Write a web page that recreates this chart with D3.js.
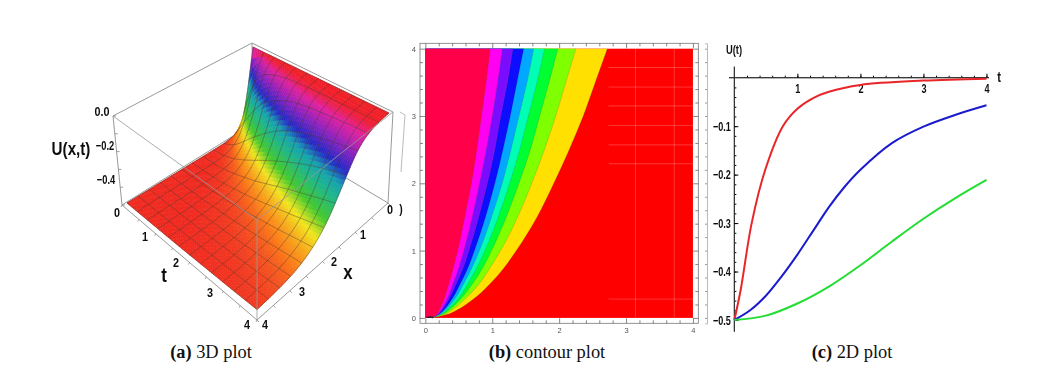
<!DOCTYPE html>
<html>
<head>
<meta charset="utf-8">
<script src="https://cdn.jsdelivr.net/npm/d3@7"></script>
<style>
    html, body { margin: 0; background: #fff; }
    svg { display: block; }
    text { font-family: "Liberation Sans", sans-serif; fill: #111; }
    .caption { font-family: "Liberation Serif", serif; font-size: 18.4px; fill: #111; text-anchor: middle; }
    .caption .b { font-weight: bold; }
    .small text { font-size: 7.5px; fill: #555; }
</style>
</head>
<body>
<div id="chart"></div>
<script>
const width = 1039, height = 388;

// (a) surface U(x,t). one row per t, one column per x, 12 cells each way
const meshX = [0, 1/3, 2/3, 1, 4/3, 5/3, 2, 7/3, 8/3, 3, 10/3, 11/3, 4];
const meshT = [0, 1/3, 2/3, 1, 4/3, 5/3, 2, 7/3, 8/3, 3, 10/3, 11/3, 4];
const surfaceU = [
    [0, -.45, -.49, -.5, -.5, -.5, -.5, -.5, -.5, -.5, -.5, -.5, -.5],
    [0, -.101, -.406, -.481, -.496, -.5, -.5, -.5, -.5, -.5, -.5, -.5, -.5],
    [0, -.032, -.254, -.421, -.476, -.493, -.498, -.5, -.5, -.5, -.5, -.5, -.5],
    [0, -.017, -.157, -.354, -.445, -.478, -.492, -.496, -.499, -.5, -.5, -.5, -.5],
    [0, -.009, -.101, -.285, -.406, -.459, -.481, -.492, -.496, -.499, -.5, -.5, -.5],
    [0, -.007, -.067, -.225, -.366, -.441, -.47, -.486, -.493, -.496, -.498, -.499, -.5],
    [0, -.005, -.045, -.182, -.327, -.412, -.456, -.477, -.489, -.494, -.497, -.498, -.499],
    [0, -.004, -.038, -.15, -.289, -.387, -.439, -.468, -.482, -.491, -.495, -.497, -.498],
    [0, -.003, -.032, -.123, -.254, -.361, -.421, -.457, -.476, -.487, -.493, -.495, -.497],
    [0, -.003, -.027, -.101, -.222, -.336, -.406, -.447, -.469, -.481, -.49, -.494, -.496],
    [0, -.003, -.023, -.085, -.197, -.312, -.389, -.433, -.461, -.477, -.486, -.492, -.495],
    [0, -.002, -.02, -.07, -.176, -.287, -.37, -.42, -.453, -.472, -.482, -.49, -.493],
    [0, -.002, -.017, -.058, -.157, -.265, -.354, -.409, -.445, -.466, -.478, -.486, -.492]
];
const surfaceStops = [-.5, -.45, -.385, -.33, -.25, -.2, -.15, -.085, -.03, -.006, 0];
const surfaceColors = ["#f0281e", "#fb8418", "#f0e61e", "#42c92c", "#1cb58a", "#18a0b0", "#2228c4", "#8a20c0", "#e0209c", "#f01c2c", "#f01c24"];

// (b) contour lines: x position of each level at each t
const contourT = [0, .05, .1, .25, .5, .75, 1, 1.5, 2, 2.5, 3, 3.5, 4];
const level1 = [.1, .17, .2, .27, .35, .42, .485, .59, .69, .77, .84, .91, .97];
const level2 = [.1, .18, .22, .31, .41, .5, .575, .7, .81, .91, 1, 1.08, 1.15];
const level3 = [.1, .19, .24, .34, .46, .57, .655, .8, .93, 1.04, 1.13, 1.23, 1.31];
const level4 = [.1, .2, .26, .38, .52, .64, .735, .9, 1.04, 1.16, 1.27, 1.37, 1.47];
const level5 = [.1, .21, .28, .42, .57, .7, .81, .99, 1.15, 1.28, 1.4, 1.52, 1.62];
const level6 = [.1, .23, .3, .46, .63, .77, .89, 1.09, 1.26, 1.41, 1.54, 1.67, 1.78];
const level7 = [.1, .25, .33, .5, .7, .86, .99, 1.21, 1.4, 1.57, 1.71, 1.85, 1.98];
const level8 = [.1, .28, .37, .56, .8, .97, 1.125, 1.38, 1.59, 1.78, 1.95, 2.1, 2.25];
const level9 = [.1, .32, .44, .68, .96, 1.18, 1.36, 1.67, 1.92, 2.15, 2.36, 2.54, 2.72];
const contourLevels = [level1, level2, level3, level4, level5, level6, level7, level8, level9];
const bandColors = ["#ff0048", "#ff00f0", "#7a10ff", "#0808ff", "#00a8ff", "#00ffb4", "#00ff30", "#80ff00", "#ffe000"];
const restColor = "#ff0000";
const faintH = [3.72, 3.43, 3.15, 2.86, 2.57, 2.29];
const faintV = [3.14, 3.72];

// (c) U(t) curves
const curveT = [0, .1, .275, .49, .77, 1, 1.25, 1.5, 2, 3, 4];
const redU = [-.5, -.438, -.3, -.19, -.1, -.064, -.042, -.029, -.015, -.006, -.002];
const blueT = [0, .25, .5, .75, 1, 1.25, 1.5, 1.75, 2, 2.5, 3, 3.5, 4];
const blueU = [-.5, -.48, -.45, -.41, -.365, -.316, -.267, -.225, -.19, -.135, -.101, -.077, -.057];
const greenT = [0, .5, 1, 1.5, 2, 2.5, 3, 3.5, 4];
const greenU = [-.5, -.491, -.466, -.431, -.387, -.338, -.291, -.249, -.211];

const tickLabels = [0, 1, 2, 3, 4];
const uLabels = [-.1, -.2, -.3, -.4, -.5];

const svg = d3.select("#chart").append("svg").attr("width", width).attr("height", height);

svg.append("defs").append("filter").attr("id", "soft")
    .attr("x", "-5%").attr("y", "-5%").attr("width", "110%").attr("height", "110%")
    .append("feGaussianBlur").attr("stdDeviation", 0.45);

drawSurface();
drawContour();
drawCurves();

const captions = [["(a)", " 3D plot", 211], ["(b)", " contour plot", 547], ["(c)", " 2D plot", 852]];
captions.forEach(c => {
    const t = svg.append("text").attr("class", "caption").attr("x", c[2]).attr("y", 358);
    t.append("tspan").attr("class", "b").text(c[0]);
    t.append("tspan").text(c[1]);
});

// no narrow face is installed, so squeeze the bold one
function narrowLabel(g, s, x, y, size, sx) {
    g.append("text")
        .attr("transform", `translate(${x},${y}) scale(${sx || .8},1)`)
        .attr("text-anchor", "middle").attr("dominant-baseline", "middle")
        .attr("font-size", size).attr("font-weight", "bold").text(s);
}

// unit square to a four corner plane. full perspective came out too strong, so mix it with bilinear
function planeMap(a, b, c, d) {
    const dx1 = b[0] - c[0], dx2 = d[0] - c[0], sx = a[0] - b[0] + c[0] - d[0];
    const dy1 = b[1] - c[1], dy2 = d[1] - c[1], sy = a[1] - b[1] + c[1] - d[1];
    const den = dx1 * dy2 - dx2 * dy1;
    const g = (sx * dy2 - dx2 * sy) / den, h = (dx1 * sy - sx * dy1) / den;
    const A = b[0] - a[0] + g * b[0], B = d[0] - a[0] + h * d[0];
    const D = b[1] - a[1] + g * b[1], E = d[1] - a[1] + h * d[1];
    const mix = .4;
    return (u, v) => {
        const w = g * u + h * v + 1;
        const persp = [(A * u + B * v + a[0]) / w, (D * u + E * v + a[1]) / w];
        return [0, 1].map(i => {
            const flat = (1 - u) * (1 - v) * a[i] + u * (1 - v) * b[i] + u * v * c[i] + (1 - u) * v * d[i];
            return flat + (persp[i] - flat) * mix;
        });
    };
}

function drawSurface() {
    const g = svg.append("g").attr("filter", "url(#soft)");

    const unit = d3.scaleLinear().domain([0, 4]).range([0, 1]);
    const uUnit = d3.scaleLinear().domain([-.5, 0]).range([0, 1]);
    // corners at (x=0,t=0) (x=4,t=0) (x=4,t=4) (x=0,t=4), for U=-0.5 and U=0
    const low = planeMap([254.5, 125], [127, 203], [257, 311], [384, 203]);
    const high = planeMap([253, 47], [116, 118], [257, 223], [389, 113]);
    const project = (x, t, U) => {
        const p = low(unit(x), unit(t)), q = high(unit(x), unit(t)), w = uUnit(U);
        return [p[0] + (q[0] - p[0]) * w, p[1] + (q[1] - p[1]) * w];
    };

    // drawn surface runs smooth through the table, the way the original shading does
    const rowSplines = surfaceU.map(row => d3.interpolateBasis(row));
    const valueAt = (x, t) => d3.interpolateBasis(rowSplines.map(f => f(unit(x))))(unit(t));

    const color = d3.scaleLinear().domain(surfaceStops).range(surfaceColors);
    const line = d3.line();

    // box
    const box = {
        leftTop: [113, 116], backTop: [252, 43], rightTop: [393, 112], frontTop: [257, 220],
        left: [122, 205], back: [254, 123], right: [388, 203], front: [257, 320]
    };
    const edge = (a, b, op) => g.append("path").attr("d", line([box[a], box[b]]))
        .attr("stroke", "#999").attr("stroke-width", 1).attr("fill", "none").attr("opacity", op || 1);
    edge("back", "left"); edge("back", "right"); edge("back", "backTop");
    edge("leftTop", "backTop"); edge("backTop", "rightTop");
    edge("leftTop", "left"); edge("rightTop", "right");

    // small quads, back to front, so the colour runs smooth inside each mesh cell
    const sub = 6, quads = [], n = (meshX.length - 1) * sub;
    const fine = d3.range(n + 1).map(i => i * 4 / n);
    const values = fine.map(t => fine.map(x => valueAt(x, t)));
    d3.range(n).forEach(j => d3.range(n).forEach(k => {
        const pts = [[k, j], [k, j + 1], [k + 1, j + 1], [k + 1, j]];
        quads.push({
            pts: pts.map(p => project(fine[p[0]], fine[p[1]], values[p[1]][p[0]])),
            U: d3.mean(pts, p => values[p[1]][p[0]]),
            key: j + k
        });
    }));
    quads.sort((p, q) => p.key - q.key);

    g.append("g").selectAll("path").data(quads).join("path")
        .attr("d", d => line(d.pts) + "Z")
        .attr("fill", d => color(d.U))
        .attr("stroke", d => color(d.U))
        .attr("stroke-width", 0.6);

    // mesh lines
    const meshLines = [];
    meshT.forEach(t => meshLines.push(fine.map(x => project(x, t, valueAt(x, t)))));
    meshX.forEach(x => meshLines.push(fine.map(t => project(x, t, valueAt(x, t)))));
    g.append("g").selectAll("path").data(meshLines).join("path")
        .attr("d", line)
        .attr("fill", "none").attr("stroke", "#4a3a30").attr("stroke-opacity", .6).attr("stroke-width", .7);

    edge("leftTop", "frontTop", .8); edge("rightTop", "frontTop", .8); edge("frontTop", "front", .8);
    edge("left", "front"); edge("front", "right");

    // ticks along the front edges and the left upright
    const tEdge = d3.scaleLinear().domain([0, 4]).range([box.left, box.front]);
    const xEdge = d3.scaleLinear().domain([0, 4]).range([box.right, box.front]);
    const uEdge = d3.scaleLinear().domain([0, -.5]).range([box.leftTop, box.left]);
    const tick = (p, dx, dy) => g.append("path").attr("d", line([p, [p[0] + dx, p[1] + dy]]))
        .attr("stroke", "#888").attr("fill", "none").attr("stroke-width", .8);
    d3.range(0, 4.01, .5).forEach(v => { tick(tEdge(v), -1, 2); tick(xEdge(v), 2, 2); });
    d3.range(0, -.51, -.1).forEach(v => tick(uEdge(v), 3, 0));

    // stray clipped piece at the right of the panel
    g.append("path").attr("d", line([[400, 112], [405, 115], [401, 172]]))
        .attr("fill", "none").attr("stroke", "#aaa").attr("stroke-width", .8);

    narrowLabel(g, "0.0", 102, 112, 13.5);
    narrowLabel(g, "\u22120.2", 105, 147, 13, .72);
    narrowLabel(g, "\u22120.4", 106, 181, 13, .72);
    narrowLabel(g, "U(x,t)", 71, 150, 19, .8);
    const tPlaces = [[117, 213], [145, 237], [176, 263], [210, 293], [247, 325]];
    const xPlaces = [[390, 210], [363, 235], [334, 262], [302, 292], [265, 325]];
    tickLabels.forEach((v, i) => {
        narrowLabel(g, v, tPlaces[i][0], tPlaces[i][1], 13.5);
        narrowLabel(g, v, xPlaces[i][0], xPlaces[i][1], 13.5);
    });
    narrowLabel(g, ")", 401, 210, 13);
    narrowLabel(g, "t", 164, 276, 21);
    narrowLabel(g, "x", 348, 273, 21);
}

function drawContour() {
    const g = svg.append("g").attr("filter", "url(#soft)");
    const x = d3.scaleLinear().domain([-.08, 4.08]).range([420, 698.3]);
    const y = d3.scaleLinear().domain([-.08, 4.08]).range([323.3, 43.3]);

    g.append("rect").attr("x", x(0)).attr("y", y(4)).attr("width", x(4) - x(0)).attr("height", y(0) - y(4))
        .attr("fill", restColor);

    // widest band first, each one painted over from the left edge
    d3.range(contourLevels.length - 1, -1, -1).forEach(i => {
        const rows = contourT.map((t, r) => ({ t, v: contourLevels[i][r] }));
        g.append("path").datum(rows)
            .attr("d", d3.area().curve(d3.curveMonotoneY).y(d => y(d.t)).x0(x(0)).x1(d => x(d.v)))
            .attr("fill", bandColors[i]);
        g.append("path").datum(rows)
            .attr("d", d3.line().curve(d3.curveMonotoneY).y(d => y(d.t)).x(d => x(d.v)))
            .attr("fill", "none").attr("stroke", "#555").attr("stroke-opacity", .4).attr("stroke-width", .5);
    });
    g.append("path").attr("d", d3.line()([[x(.02), y(.01)], [x(.12), y(.01)]]))
        .attr("stroke", "#223").attr("stroke-width", 1.5);

    // pale grid the export left in the red area
    g.selectAll(".fh").data(faintH).join("line")
        .attr("x1", x(2.74)).attr("x2", x(4)).attr("y1", d => y(d)).attr("y2", d => y(d))
        .attr("stroke", "#fff").attr("stroke-opacity", .22);
    g.selectAll(".fv").data(faintV).join("line")
        .attr("x1", d => x(d)).attr("x2", d => x(d)).attr("y1", y(4)).attr("y2", y(0))
        .attr("stroke", "#fff").attr("stroke-opacity", .22);
    g.append("line").attr("x1", x(2.74)).attr("x2", x(4)).attr("y1", y(.28)).attr("y2", y(.28))
        .attr("stroke", "#fff").attr("stroke-opacity", .2);

    g.append("rect").attr("x", 420).attr("y", 43.3).attr("width", 278.3).attr("height", 280)
        .attr("fill", "none").attr("stroke", "#777").attr("stroke-width", .8);

    const minor = d3.range(0, 4.01, .2).filter(d => Math.abs(d % 1) > .01 && Math.abs(d % 1) < .99);
    const side = (axis, scale, pos, labelled) => {
        const a = g.append("g").attr("class", "small").attr("transform", pos);
        a.append("g").call(axis(scale).tickValues(minor).tickSize(-3).tickFormat(""));
        a.append("g").call(axis(scale).tickValues(tickLabels).tickSize(-5).tickPadding(4)
            .tickFormat(labelled ? d3.format("d") : ""));
        a.selectAll(".domain").remove();
        a.selectAll("line").attr("stroke", "#555").attr("stroke-width", .7);
    };
    side(d3.axisBottom, x, "translate(0,323.3)", true);
    side(d3.axisTop, x, "translate(0,43.3)", false);
    side(d3.axisLeft, y, "translate(420,0)", true);
    side(d3.axisRight, y, "translate(698.3,0)", false);

    // left frame of the next panel, cut off by the crop
    const a = g.append("g").attr("transform", "translate(707,0)");
    a.call(d3.axisLeft(y).tickValues(d3.range(0, 4.01, .2)).tickSize(2).tickFormat(""));
    a.selectAll(".domain").attr("stroke", "#bbb");
    a.selectAll("line").attr("stroke", "#999");
}

function drawCurves() {
    const g = svg.append("g").attr("filter", "url(#soft)");
    const x = d3.scaleLinear().domain([-.085, 4.04]).range([729, 989]);
    const y = d3.scaleLinear().domain([0, -.5]).range([77.7, 320]);

    const xAxis = g.append("g").attr("transform", `translate(0,${y(0)})`);
    xAxis.append("g").call(d3.axisBottom(x).tickValues(d3.range(.2, 4.01, .2)).tickSize(-2).tickFormat(""));
    xAxis.append("g").call(d3.axisBottom(x).tickValues(tickLabels.slice(1)).tickSize(-4).tickPadding(6)
        .tickFormat(d3.format("d")));
    xAxis.selectAll("path.domain").attr("d", "M729,0H989").attr("stroke", "#333");

    const yAxis = g.append("g").attr("transform", `translate(${x(0)},0)`);
    yAxis.append("g").call(d3.axisLeft(y).tickValues(d3.range(-.02, -.51, -.02)).tickSize(-2).tickFormat(""));
    yAxis.append("g").call(d3.axisLeft(y).tickValues(uLabels).tickSize(-4).tickPadding(5)
        .tickFormat(d3.format(".1f")));
    yAxis.selectAll("path.domain").attr("d", "M0,66.7V331.7").attr("stroke", "#333");
    g.selectAll("text").attr("font-size", 13).attr("font-weight", "bold")
        .attr("font-family", '"Liberation Sans", sans-serif').attr("fill", "#000")
        .attr("transform", "scale(.7,1)");

    const series = [[curveT, redU, "#e8262a"], [blueT, blueU, "#1a1acc"], [greenT, greenU, "#22dd33"]];
    const line = d3.line().curve(d3.curveCatmullRom.alpha(.5)).x(d => x(d[0])).y(d => y(d[1]));
    g.selectAll(".curve").data(series).join("path")
        .attr("d", s => line(d3.zip(s[0], s[1])))
        .attr("fill", "none").attr("stroke", s => s[2]).attr("stroke-width", 2);

    narrowLabel(g, "t", 999, 78, 14);
    narrowLabel(g, "U(t)", 734, 51, 13, .72);
}
</script>
</body>
</html>
